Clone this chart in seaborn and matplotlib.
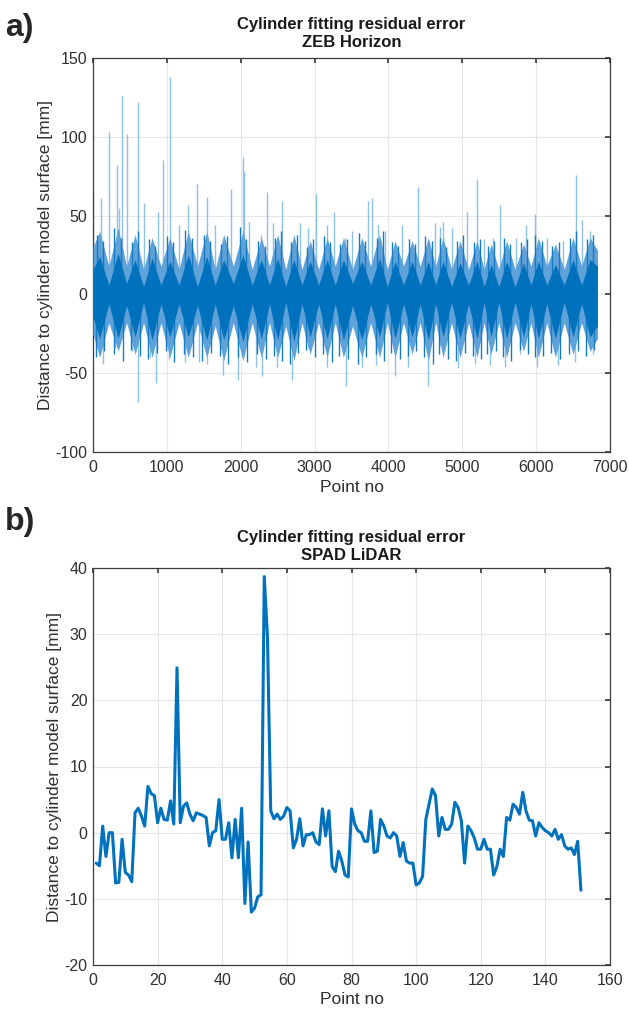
import matplotlib
matplotlib.use('Agg')
import matplotlib.pyplot as plt
import numpy as np
import pandas as pd
import seaborn as sns

# ---- panel a: ZEB Horizon residuals, summarised from the figure ----
# envelope vertices: alternating lobe centres and waists between lobes
env_x = [0, 90, 215, 340, 455, 570, 685, 800, 920, 1040, 1165, 1290, 1415, 1540,
         1655, 1770, 1900, 2030, 2155, 2280, 2390, 2500, 2610, 2720, 2830, 2940,
         3055, 3170, 3280, 3390, 3515, 3640, 3760, 3880, 3985, 4090, 4205, 4320,
         4430, 4540, 4640, 4740, 4855, 4970, 5085, 5200, 5295, 5390, 5495, 5600,
         5715, 5830, 5930, 6030, 6145, 6260, 6380, 6500, 6615, 6730, 6830]
core_top = [16, 24, 6, 26, 7, 22, 5, 23, 6, 21, 6, 25, 5, 24, 6, 22, 7, 25, 6, 22,
            6, 23, 5, 22, 6, 21, 6, 22, 6, 22, 7, 21, 6, 23, 5, 21, 6, 21, 6, 21,
            6, 21, 5, 20, 6, 21, 5, 19, 5, 21, 5, 20, 6, 21, 6, 19, 6, 22, 6, 22, 18]
core_bot = [-14, -28, -6, -28, -7, -27, -5, -29, -6, -27, -6, -27, -7, -29, -6,
            -29, -7, -30, -6, -28, -6, -29, -5, -30, -6, -27, -6, -28, -6, -29,
            -7, -29, -6, -27, -5, -28, -6, -27, -6, -29, -6, -27, -5, -28, -6,
            -28, -5, -27, -5, -28, -5, -27, -6, -28, -6, -28, -5, -27, -6, -27, -20]
fringe_top = [30, 40, 18, 42, 18, 38, 16, 36, 18, 36, 16, 40, 18, 40, 16, 38, 18,
              40, 16, 36, 18, 38, 16, 38, 16, 34, 16, 36, 18, 36, 16, 36, 18, 38,
              16, 34, 18, 34, 18, 36, 18, 36, 16, 34, 16, 34, 16, 32, 16, 34, 16,
              32, 18, 36, 18, 32, 16, 36, 18, 36, 28]
fringe_bot = [-25, -40, -18, -36, -18, -38, -18, -40, -18, -40, -18, -40, -18, -40,
              -20, -42, -18, -42, -18, -40, -18, -40, -20, -42, -18, -38, -18, -40,
              -18, -40, -20, -40, -18, -40, -18, -40, -18, -38, -18, -42, -18, -40,
              -18, -40, -18, -40, -18, -38, -18, -40, -18, -36, -18, -40, -18, -40,
              -18, -38, -18, -36, -28]

# dense (dark) strokes poking out of the lobes
dark_up_x = [60, 130, 290, 385, 530, 615, 760, 845, 1000, 1085, 1250, 1335, 1500,
             1585, 1730, 1815, 1990, 2075, 2240, 2325, 2460, 2545, 2680, 2765, 2900,
             2985, 3130, 3215, 3350, 3435, 3600, 3685, 3840, 3925, 4050, 4135, 4280,
             4365, 4500, 4585, 4700, 4785, 4930, 5015, 5160, 5245, 5350, 5435, 5560,
             5645, 5790, 5875, 5990, 6075, 6220, 6305, 6460, 6545, 6690, 6775]
dark_up_y = [38, 34, 42, 36, 33, 40, 35, 31, 37, 33, 41, 36, 38, 34, 32, 37, 43, 35,
             34, 31, 36, 40, 33, 38, 30, 35, 37, 33, 32, 35, 39, 34, 36, 40, 33, 31,
             35, 32, 37, 34, 36, 30, 34, 38, 33, 35, 31, 34, 36, 32, 33, 35, 38, 34,
             31, 33, 36, 40, 35, 38]
dark_dn_x = [40, 150, 280, 400, 515, 630, 745, 860, 985, 1100, 1230, 1350, 1480,
             1600, 1715, 1830, 1970, 2090, 2220, 2340, 2445, 2560, 2665, 2780, 2885,
             3000, 3115, 3230, 3335, 3450, 3585, 3700, 3825, 3940, 4035, 4150, 4265,
             4380, 4485, 4600, 4690, 4800, 4915, 5030, 5145, 5260, 5340, 5450, 5545,
             5660, 5775, 5890, 5980, 6090, 6205, 6320, 6445, 6560, 6680, 6790]
dark_dn_y = [-40, -36, -38, -42, -35, -39, -41, -37, -36, -43, -38, -40, -42, -37,
             -39, -44, -40, -43, -38, -41, -39, -42, -44, -37, -35, -40, -38, -43,
             -39, -41, -44, -40, -38, -42, -37, -41, -39, -36, -40, -44, -38, -41,
             -42, -37, -39, -41, -38, -36, -40, -42, -35, -38, -40, -39, -37, -41,
             -38, -36, -39, -35]

# isolated (light) residual spikes
spike_up_x = [5, 104, 221, 320, 357, 393, 456, 613, 690, 885, 943, 1043, 1169,
              1282, 1413, 1548, 1652, 1864, 2026, 2049, 2117, 2270, 2351, 2442,
              2564, 2803, 2907, 3015, 3164, 3263, 3412, 3512, 3719, 3782, 3854,
              3954, 4180, 4315, 4405, 4631, 4698, 4743, 4856, 5060, 5195, 5299,
              5420, 5511, 5727, 5863, 5985, 6143, 6368, 6540, 6617, 6730, 6810]
spike_up_y = [66, 61, 103, 82, 55, 126, 102, 122, 58, 52, 85, 138, 44, 57, 70,
              62, 44, 67, 87, 78, 46, 38, 65, 45, 59, 45, 42, 64, 44, 52, 36, 40,
              59, 61, 44, 40, 44, 32, 68, 45, 43, 46, 42, 52, 73, 35, 36, 57, 36,
              44, 51, 36, 34, 76, 47, 40, 23]
spike_dn_x = [140, 298, 524, 613, 772, 848, 1029, 1246, 1440, 1539, 1756, 1968,
              2202, 2293, 2487, 2690, 2916, 3164, 3421, 3638, 3828, 4089, 4270,
              4532, 4698, 4947, 5173, 5375, 5578, 5781, 6016, 6301, 6526, 6774]
spike_dn_y = [-44, -34, -36, -68, -40, -56, -41, -43, -43, -44, -51, -54, -46, -52,
              -46, -54, -34, -46, -58, -46, -45, -52, -46, -58, -33, -47, -44, -45,
              -46, -38, -46, -45, -43, -38]

# ---- panel b: SPAD LiDAR residuals ----
spad_res = [
    -4.6, -5.0, 1.0, -3.6, 0.0, 0.0, -7.6, -7.5, -1.0, -6.0,
    -6.4, -7.4, 3.0, 3.7, 2.5, 1.0, 7.0, 5.9, 5.6, 1.5,
    3.7, 2.0, 1.9, 4.8, 1.3, 24.9, 1.5, 4.0, 4.5, 2.8,
    1.8, 3.0, 2.8, 2.6, 2.3, -2.0, 0.0, 0.3, 5.0, -1.0,
    -1.0, 1.5, -3.8, 2.0, -3.8, 3.7, -10.7, -1.4, -12.0, -11.4,
    -9.7, -9.4, 38.7, 29.5, 3.3, 2.1, 2.8, 2.0, 2.5, 3.8,
    3.3, -2.3, -1.0, 2.1, -2.0, -0.3, -0.3, 0.0, -1.4, -1.8,
    3.6, -0.5, 3.3, -5.1, -5.9, -2.8, -4.3, -6.4, -6.7, 3.6,
    1.3, 0.3, 0.0, -1.3, -1.3, 3.3, -3.0, -2.8, 2.0, 1.0,
    -0.5, -0.8, 0.0, -0.5, -3.6, -1.5, -4.3, -4.6, -4.6, -7.9,
    -7.6, -6.6, 2.0, 4.3, 6.6, 5.6, -0.5, 2.3, 0.5, 0.5,
    1.3, 4.6, 3.8, 1.8, -4.6, 1.0, 0.3, -0.8, -2.5, -2.5,
    -1.0, -2.5, -2.5, -6.4, -5.1, -2.5, -3.6, 2.3, 1.9, 4.3,
    3.8, 2.8, 6.1, 3.3, 1.9, 1.8, -0.5, 1.5, 0.8, 0.3,
    0.0, -0.5, 0.5, -1.0, -0.3, -2.0, -2.5, -2.3, -3.3, -1.3,
    -8.7]

TITLE1 = 'Cylinder fitting residual error'
YLAB = 'Distance to cylinder model surface [mm]'
XLAB = 'Point no'
BLUE = '#0072BD'


def matlab_axes(ax, xlim, xticks, ylim, yticks):
    ax.set_xlim(*xlim)
    ax.set_ylim(*ylim)
    ax.set_xticks(xticks)
    ax.set_yticks(yticks)
    ax.grid(True, color='#e6e6e6', lw=0.8)
    ax.set_axisbelow(True)
    for s in ax.spines.values():
        s.set_visible(True)
        s.set_color('#3c3c3c')
        s.set_linewidth(0.9)
    ax.tick_params(direction='in', top=True, right=True, length=3.5,
                   color='#3c3c3c', labelsize=11.5, labelcolor='#303030')
    ax.tick_params(axis='x', pad=6)
    ax.tick_params(axis='y', pad=4)
    ax.set_xlabel(XLAB, fontsize=12.5, color='#303030', labelpad=3)
    ax.set_ylabel(YLAB, fontsize=12.5, color='#303030', labelpad=2)


sns.set_theme(style='white')
plt.rcParams['font.family'] = ['Liberation Sans', 'DejaVu Sans']
plt.rcParams['axes.unicode_minus'] = False

fig = plt.figure(figsize=(6.29, 10.16), dpi=100)
W, H = 629, 1016
ax_a = fig.add_axes([93 / W, 1 - 452 / H, 517 / W, 394 / H])
ax_b = fig.add_axes([93 / W, 1 - 965 / H, 517 / W, 397 / H])

# panel a
ax_a.vlines(spike_up_x, 0, spike_up_y, color='#8fc0e8', lw=1.0, zorder=2)
ax_a.vlines(spike_dn_x, 0, spike_dn_y, color='#8fc0e8', lw=1.0, zorder=2)
ax_a.fill_between(env_x, fringe_bot, fringe_top, color='#5fa1d9', lw=0, zorder=3)
ax_a.vlines(dark_up_x, 0, dark_up_y, color='#157cc3', lw=1.0, zorder=4)
ax_a.vlines(dark_dn_x, 0, dark_dn_y, color='#157cc3', lw=1.0, zorder=4)
ax_a.fill_between(env_x, core_bot, core_top, color=BLUE, lw=0, zorder=5)
matlab_axes(ax_a, (0, 7000), range(0, 7001, 1000), (-100, 150), range(-100, 151, 50))
ax_a.set_title(TITLE1 + '\nZEB Horizon', fontsize=12, fontweight='bold',
               color='#1a1a1a', pad=8, linespacing=1.2)

# panel b
df_b = pd.DataFrame({'point': np.arange(1, len(spad_res) + 1), 'res': spad_res})
sns.lineplot(data=df_b, x='point', y='res', color=BLUE, lw=2.2, ax=ax_b, zorder=3)
matlab_axes(ax_b, (0, 160), range(0, 161, 20), (-20, 40), range(-20, 41, 10))
ax_b.set_title(TITLE1 + '\nSPAD LiDAR', fontsize=12, fontweight='bold',
               color='#1a1a1a', pad=6, linespacing=1.2)

fig.text(5 / W, 1 - 28 / H, 'a)', fontsize=23, fontweight='bold', va='center', ha='left')
fig.text(5 / W, 1 - 522 / H, 'b)', fontsize=23, fontweight='bold', va='center', ha='left')

fig.savefig('out.png', dpi=100)
